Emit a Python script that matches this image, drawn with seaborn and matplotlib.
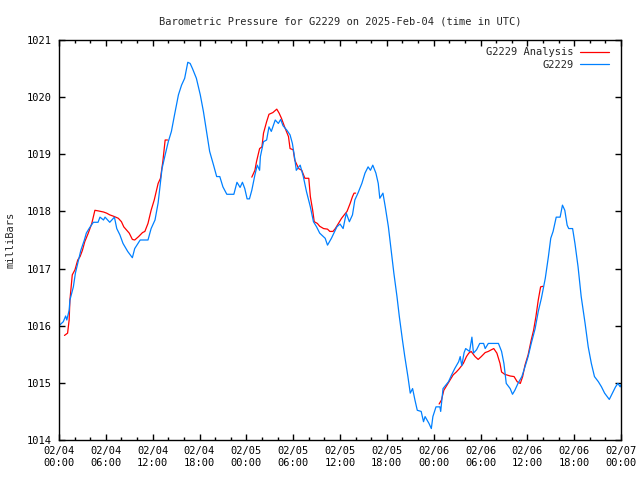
import matplotlib
matplotlib.use("Agg")
import matplotlib.pyplot as plt
import matplotlib.dates as mdates
import pandas as pd
import seaborn as sns

START = pd.Timestamp("2025-02-04 00:00")
END = pd.Timestamp("2025-02-07 00:00")
TITLE = "Barometric Pressure for G2229 on 2025-Feb-04 (time in UTC)"

# station readings, hours after 02/04 00:00 UTC
station_hours = [
    0.0, 0.55, 0.85, 1.0, 1.3, 1.4, 1.84, 2.1, 2.5, 2.8, 3.25, 3.5, 3.85, 4.4, 5.0,
    5.25, 5.7, 5.9, 6.5, 7.1, 7.4, 7.8, 8.2, 8.8, 9.4, 9.7, 10.4, 11.4, 11.8, 12.3,
    12.7, 13.2, 13.6, 14.0, 14.4, 14.8, 15.3, 15.7, 16.1, 16.5, 16.8, 17.1, 17.6,
    18.1, 18.5, 18.9, 19.3, 19.8, 20.2, 20.6, 21.0, 21.5, 22.4, 22.8, 23.2, 23.5,
    23.8, 24.1, 24.4, 24.7, 25.1, 25.4, 25.7, 25.8, 26.2, 26.6, 26.9, 27.2, 27.7,
    28.1, 28.4, 28.7, 29.2, 29.6, 29.9, 30.2, 30.4, 30.9, 31.3, 31.7, 32.2, 32.6,
    33.0, 33.4, 34.1, 34.4, 34.9, 35.6, 36.0, 36.4, 36.8, 37.2, 37.6, 37.9, 38.3,
    38.8, 39.2, 39.6, 39.9, 40.2, 40.6, 40.9, 41.1, 41.5, 41.8, 42.2, 42.6, 42.9,
    43.3, 43.6, 44.0, 44.3, 44.7, 45.0, 45.3, 45.6, 45.9, 46.4, 46.7, 46.9, 47.4,
    47.7, 47.9, 48.3, 48.8, 48.9, 49.2, 49.9, 50.3, 50.7, 51.2, 51.4, 51.6, 51.9,
    52.1, 52.6, 52.9, 53.1, 53.5, 53.9, 54.4, 54.6, 55.0, 56.3, 56.7, 57.0, 57.3,
    57.8, 58.1, 58.4, 58.8, 59.3, 59.7, 60.1, 60.5, 61.0, 61.4, 61.8, 62.3, 62.7,
    63.0, 63.3, 63.7, 64.2, 64.5, 64.8, 65.1, 65.3, 65.8, 66.1, 66.5, 66.9, 67.4,
    67.8, 68.2, 68.6, 69.1, 69.5, 69.9, 70.5, 70.9, 71.3, 71.6, 71.9, 72.0,
]
station_mb = [
    1016.00, 1016.07, 1016.17, 1016.10, 1016.27, 1016.45, 1016.68, 1016.92, 1017.15,
    1017.32, 1017.50, 1017.62, 1017.70, 1017.81, 1017.81, 1017.90, 1017.85, 1017.90,
    1017.81, 1017.90, 1017.70, 1017.59, 1017.44, 1017.30, 1017.19, 1017.35, 1017.50,
    1017.50, 1017.70, 1017.85, 1018.15, 1018.75, 1018.99, 1019.22, 1019.40, 1019.69,
    1020.04, 1020.21, 1020.33, 1020.61, 1020.59, 1020.50, 1020.33, 1020.04, 1019.75,
    1019.40, 1019.05, 1018.81, 1018.61, 1018.61, 1018.43, 1018.30, 1018.30, 1018.51,
    1018.42, 1018.51, 1018.40, 1018.22, 1018.22, 1018.37, 1018.64, 1018.81, 1018.72,
    1018.96, 1019.22, 1019.25, 1019.48, 1019.40, 1019.60, 1019.54, 1019.61, 1019.50,
    1019.42, 1019.34, 1019.19, 1018.93, 1018.72, 1018.81, 1018.61, 1018.35, 1018.08,
    1017.82, 1017.73, 1017.62, 1017.53, 1017.41, 1017.53, 1017.73, 1017.78, 1017.70,
    1017.97, 1017.82, 1017.94, 1018.20, 1018.32, 1018.49, 1018.67, 1018.78, 1018.72,
    1018.81, 1018.67, 1018.49, 1018.23, 1018.32, 1018.08, 1017.73, 1017.27, 1016.92,
    1016.51, 1016.16, 1015.75, 1015.46, 1015.11, 1014.82, 1014.90, 1014.70, 1014.52,
    1014.50, 1014.32, 1014.41, 1014.29, 1014.20, 1014.41, 1014.58, 1014.58, 1014.50,
    1014.90, 1015.02, 1015.14, 1015.25, 1015.37, 1015.46, 1015.30, 1015.53, 1015.60,
    1015.55, 1015.80, 1015.52, 1015.58, 1015.69, 1015.69, 1015.60, 1015.69, 1015.69,
    1015.55, 1015.34, 1014.99, 1014.90, 1014.80, 1014.87, 1014.99, 1015.11, 1015.28,
    1015.46, 1015.69, 1015.95, 1016.25, 1016.48, 1016.83, 1017.21, 1017.53, 1017.65,
    1017.90, 1017.90, 1018.11, 1018.02, 1017.76, 1017.70, 1017.70, 1017.44, 1017.03,
    1016.51, 1016.04, 1015.63, 1015.34, 1015.11, 1015.02, 1014.93, 1014.82, 1014.71,
    1014.82, 1014.93, 1014.99, 1014.93, 1014.97,
]

# analysis, three separate runs
analysis1_hours = [
    0.7, 1.1, 1.3, 1.4, 1.7, 2.05, 2.4, 2.7, 3.0, 3.3, 3.75, 4.2, 4.6, 5.0, 5.7, 6.1,
    6.5, 7.1, 7.6, 8.0, 8.3, 9.0, 9.4, 9.7, 10.2, 10.7, 11.0, 11.4, 11.8, 12.2, 12.7,
    13.0, 13.3, 13.6, 13.9,
]
analysis1_mb = [
    1015.83, 1015.87, 1016.10, 1016.45, 1016.89, 1016.98, 1017.15, 1017.21, 1017.32,
    1017.47, 1017.62, 1017.79, 1018.02, 1018.01, 1017.99, 1017.97, 1017.94, 1017.91,
    1017.88, 1017.82, 1017.73, 1017.62, 1017.51, 1017.50, 1017.56, 1017.63, 1017.65,
    1017.79, 1018.02, 1018.20, 1018.49, 1018.58, 1018.87, 1019.25, 1019.25,
]
analysis2_hours = [
    24.7, 25.1, 25.3, 25.7, 26.0, 26.2, 26.6, 26.9, 27.4, 27.9, 28.2, 28.5, 28.9,
    29.4, 29.6, 30.0, 30.2, 30.7, 31.1, 31.5, 32.0, 32.2, 32.5, 32.7, 33.1, 33.4,
    33.9, 34.4, 34.7, 35.1, 35.4, 35.8, 36.2, 36.6, 36.9, 37.3, 37.6, 37.8, 38.0,
]
analysis2_mb = [
    1018.60, 1018.72, 1018.87, 1019.10, 1019.13, 1019.37, 1019.57, 1019.70, 1019.73,
    1019.79, 1019.72, 1019.63, 1019.48, 1019.31, 1019.10, 1019.08, 1018.90, 1018.75,
    1018.72, 1018.58, 1018.58, 1018.26, 1018.02, 1017.82, 1017.79, 1017.74, 1017.70,
    1017.69, 1017.65, 1017.65, 1017.70, 1017.79, 1017.88, 1017.95, 1018.00, 1018.14,
    1018.26, 1018.32, 1018.32,
]
analysis3_hours = [
    48.7, 49.0, 49.3, 49.7, 50.1, 50.5, 50.9, 51.3, 51.8, 52.2, 52.5, 52.8, 53.3,
    53.7, 54.1, 54.6, 55.0, 55.4, 55.7, 56.1, 56.5, 56.7, 57.1, 57.8, 58.3, 58.7,
    59.1, 59.4, 59.7, 60.1, 60.5, 60.8, 61.1, 61.4, 61.7, 62.0,
]
analysis3_mb = [
    1014.63, 1014.70, 1014.87, 1014.96, 1015.05, 1015.14, 1015.19, 1015.25, 1015.34,
    1015.46, 1015.52, 1015.55, 1015.46, 1015.41, 1015.46, 1015.53, 1015.55, 1015.58,
    1015.60, 1015.52, 1015.34, 1015.19, 1015.15, 1015.12, 1015.11, 1015.02, 1014.99,
    1015.11, 1015.31, 1015.49, 1015.75, 1015.92, 1016.16, 1016.45, 1016.68, 1016.69,
]


def to_time(hours):
    return START + pd.to_timedelta(hours, unit="h")


def main() -> None:
    sns.set_theme(style="ticks")
    plt.rcParams["font.family"] = ["DejaVu Sans Mono"]
    plt.rcParams["axes.linewidth"] = 1.0

    station = pd.DataFrame({"time": to_time(station_hours), "mb": station_mb})
    parts = []
    for seg, (h, v) in enumerate([(analysis1_hours, analysis1_mb),
                                  (analysis2_hours, analysis2_mb),
                                  (analysis3_hours, analysis3_mb)]):
        parts.append(pd.DataFrame({"time": to_time(h), "mb": v, "seg": seg}))
    analysis = pd.concat(parts, ignore_index=True)

    fig = plt.figure(figsize=(6.4, 4.8), dpi=100)
    ax = fig.add_axes([59 / 640, 40 / 480, 562 / 640, 400 / 480])

    sns.lineplot(data=analysis, x="time", y="mb", units="seg", estimator=None,
                 color="#ff0000", linewidth=0.9, ax=ax, label="G2229 Analysis")
    sns.lineplot(data=station, x="time", y="mb", color="#0080ff",
                 linewidth=0.9, ax=ax, label="G2229")

    ax.set_xlim(START, END)
    ax.set_ylim(1014, 1021)
    ax.xaxis.set_major_locator(mdates.HourLocator(byhour=[0, 6, 12, 18]))
    ax.xaxis.set_minor_locator(mdates.HourLocator(byhour=range(0, 24, 2)))
    ax.xaxis.set_major_formatter(mdates.DateFormatter("%m/%d\n%H:%M"))
    ax.set_yticks(range(1014, 1022))

    ax.tick_params(which="both", direction="in", top=True, right=True,
                   colors="black", labelsize=7.5, width=1)
    ax.tick_params(which="major", length=4)
    ax.tick_params(which="minor", length=2.5)
    ax.tick_params(axis="x", pad=4)
    ax.tick_params(axis="y", pad=5)
    for lab in ax.get_xticklabels():
        lab.set_linespacing(1.3)

    for sp in ax.spines.values():
        sp.set_color("black")

    ax.set_xlabel("")
    ax.set_ylabel("milliBars", fontsize=7.5)
    ax.yaxis.set_label_coords(-0.078, 0.5)
    ax.set_title(TITLE, fontsize=7.5, pad=11)

    # one legend row per series (units give one line per analysis run)
    handles, labels = ax.get_legend_handles_labels()
    seen = {}
    for h, l in zip(handles, labels):
        seen.setdefault(l, h)
    ax.legend(list(seen.values()), list(seen.keys()), loc="upper right",
              bbox_to_anchor=(1 - 5 / 562, 1), frameon=False, markerfirst=False,
              fontsize=7.5, handlelength=2.8, handletextpad=0.6,
              labelspacing=0.25, borderaxespad=0.3)

    fig.savefig("out.png", dpi=100)


if __name__ == "__main__":
    main()
